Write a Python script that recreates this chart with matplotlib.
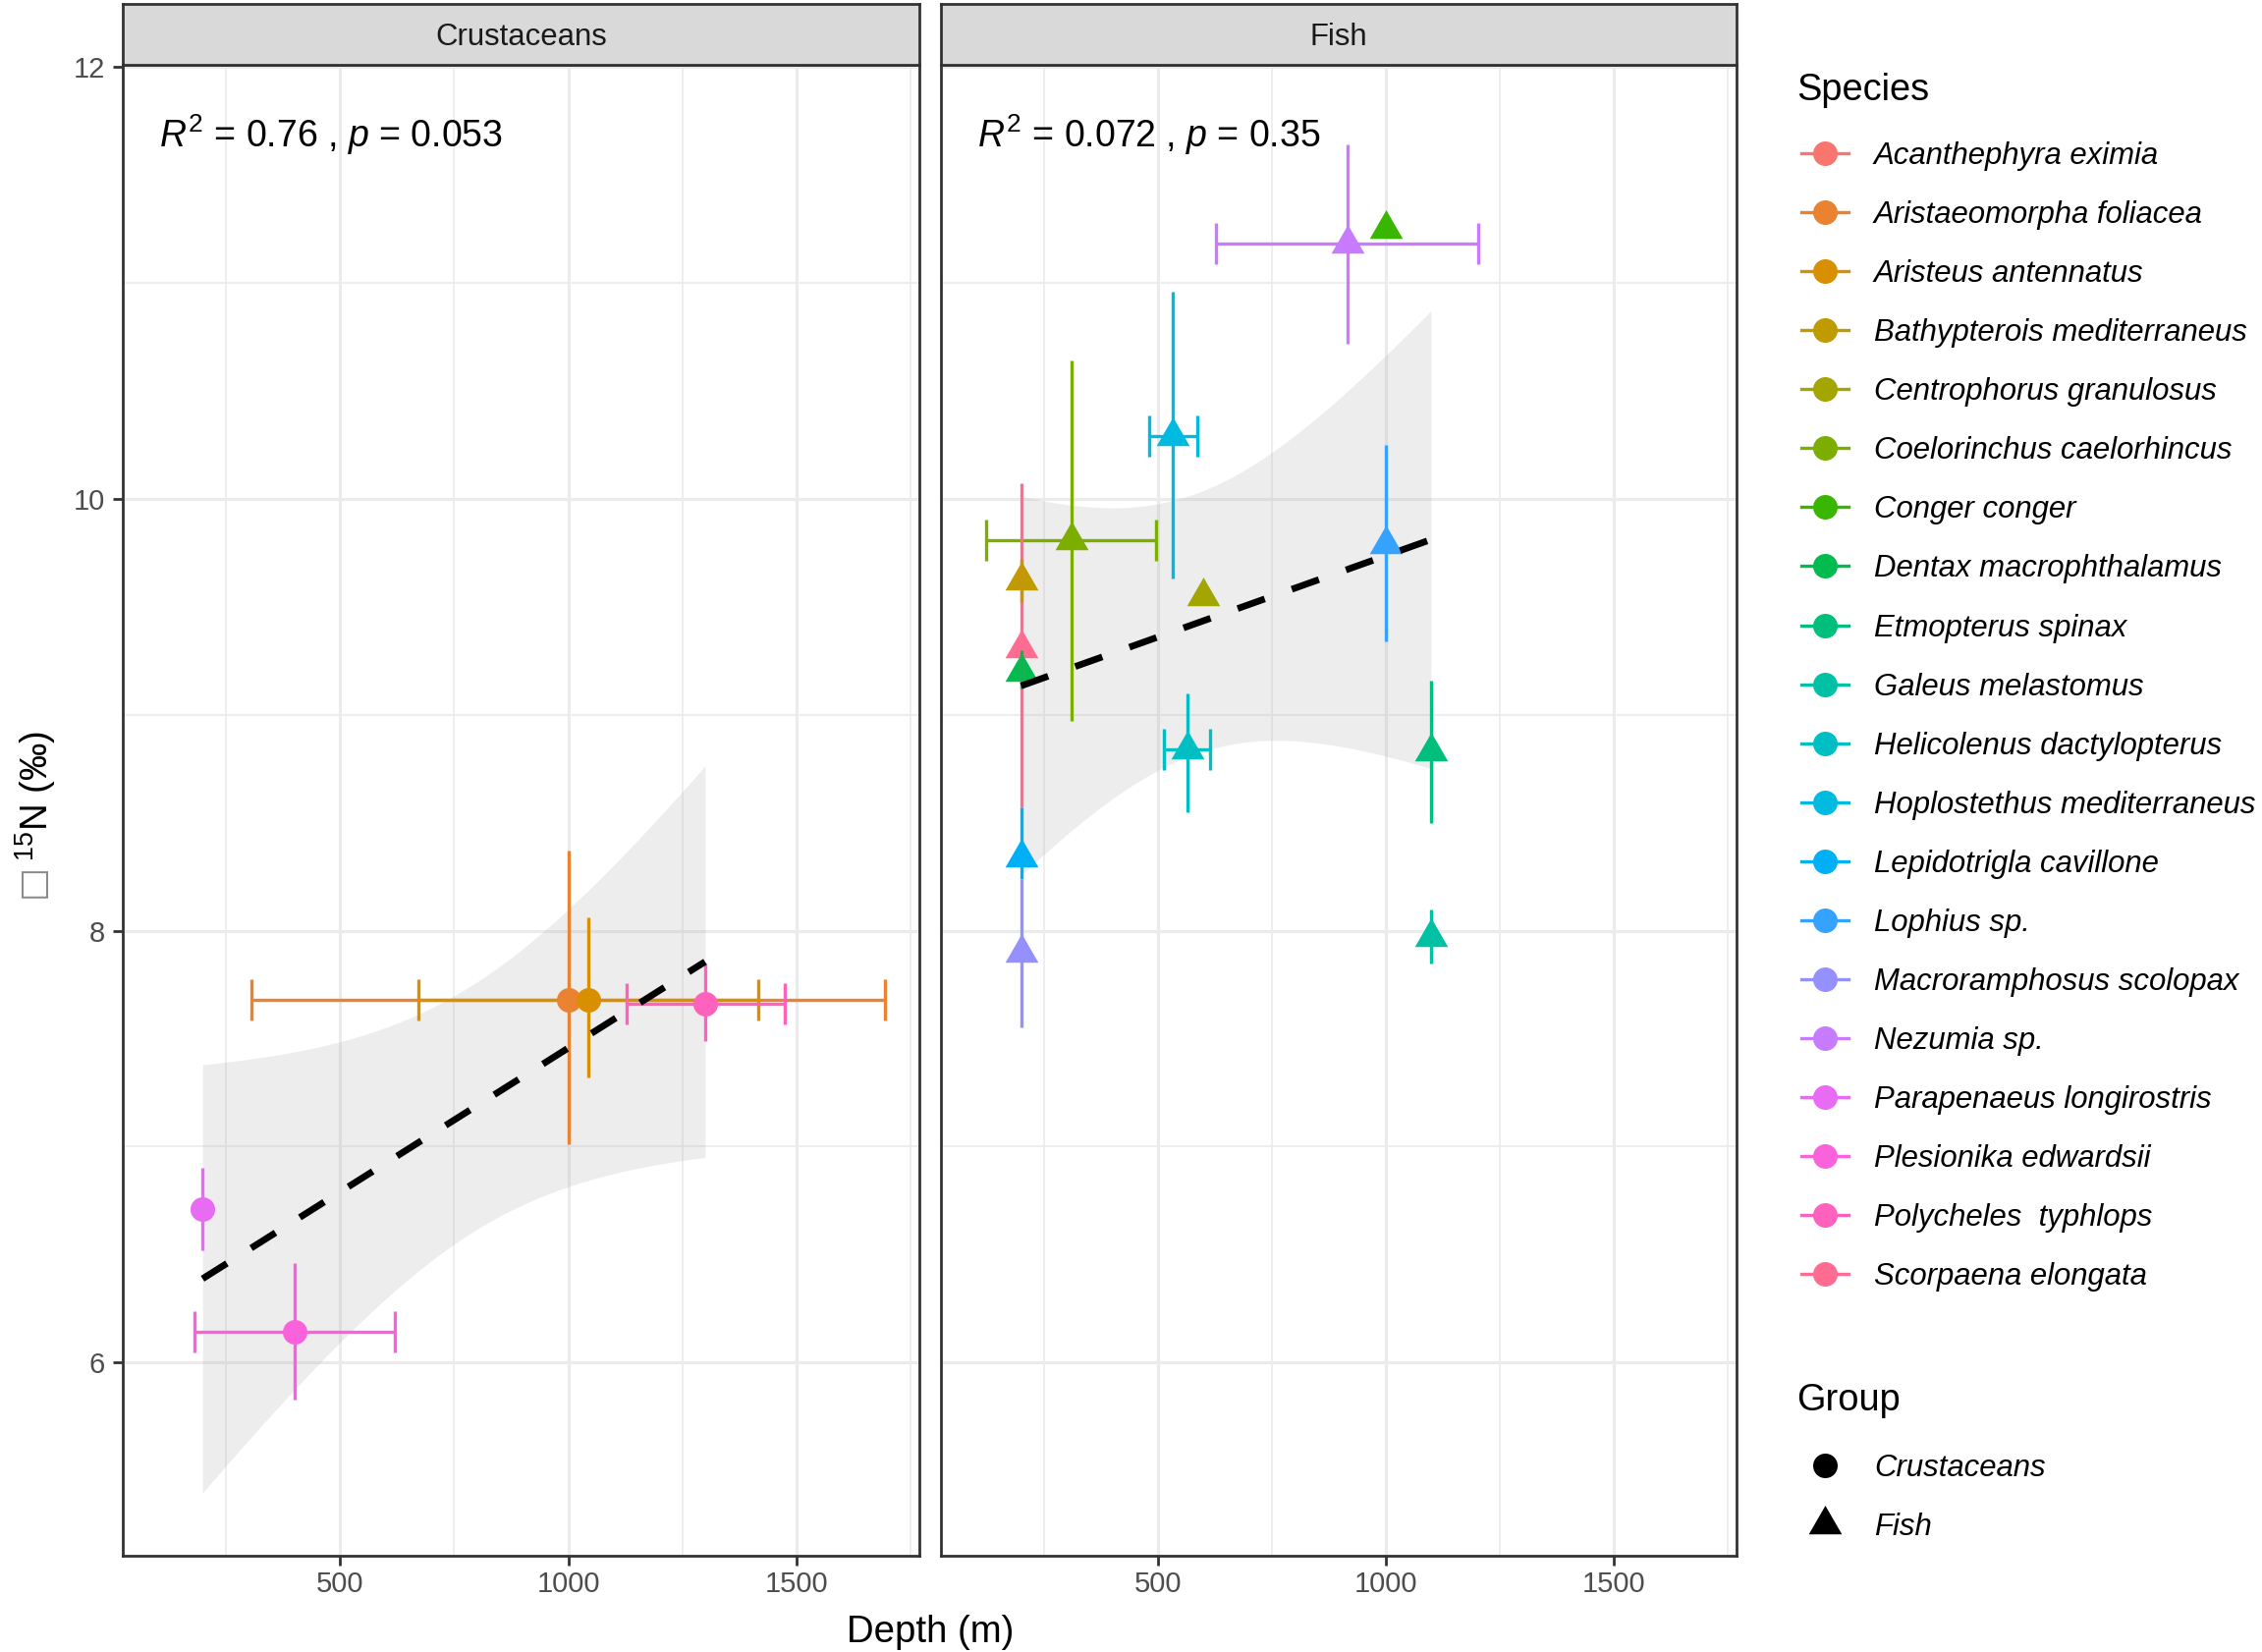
import numpy as np
import matplotlib
matplotlib.use("Agg")
import matplotlib.pyplot as plt
from matplotlib.lines import Line2D

plt.rcParams['font.family'] = ['Liberation Sans', 'DejaVu Sans']
plt.rcParams['mathtext.fontset'] = 'custom'
plt.rcParams['mathtext.rm'] = 'Liberation Sans'
plt.rcParams['mathtext.it'] = 'Liberation Sans:italic'
plt.rcParams['mathtext.bf'] = 'Liberation Sans:bold'

nan = np.nan

# ---------------- data ----------------
species = ["Acanthephyra eximia", "Aristaeomorpha foliacea", "Aristeus antennatus",
           "Bathypterois mediterraneus", "Centrophorus granulosus", "Coelorinchus caelorhincus",
           "Conger conger", "Dentax macrophthalamus", "Etmopterus spinax", "Galeus melastomus",
           "Helicolenus dactylopterus", "Hoplostethus mediterraneus", "Lepidotrigla cavillone",
           "Lophius sp.", "Macroramphosus scolopax", "Nezumia sp.", "Parapenaeus longirostris",
           "Plesionika edwardsii", "Polycheles  typhlops", "Scorpaena elongata"]
species_colors = ["#F8766D", "#EA8331", "#D89000", "#C09B00", "#A3A500", "#7CAE00", "#39B600",
                  "#00BB4E", "#00BF7D", "#00C1A3", "#00BFC4", "#00BAE0", "#00B0F6", "#35A2FF",
                  "#9590FF", "#C77CFF", "#E76BF3", "#FA62DB", "#FF62BC", "#FF6C91"]

groups = ["Crustaceans", "Fish"]
r2_labels = [r"$R^2$ = 0.76 , $p$ = 0.053", r"$R^2$ = 0.072 , $p$ = 0.35"]

# Crustaceans
crus_species = ["Aristaeomorpha foliacea", "Aristeus antennatus", "Parapenaeus longirostris",
                "Plesionika edwardsii", "Polycheles  typhlops"]
crus_depth = [1000, 1043, 198, 399, 1300]
crus_depth_min = [306, 671, nan, 180, 1127]
crus_depth_max = [1694, 1416, nan, 619, 1474]
crus_d15n = [7.68, 7.68, 6.71, 6.14, 7.66]
crus_d15n_min = [7.01, 7.32, 6.52, 5.83, 7.49]
crus_d15n_max = [8.37, 8.06, 6.90, 6.46, 7.85]

# Fish
fish_species = ["Scorpaena elongata", "Bathypterois mediterraneus", "Centrophorus granulosus",
                "Coelorinchus caelorhincus", "Conger conger", "Dentax macrophthalamus",
                "Etmopterus spinax", "Galeus melastomus", "Helicolenus dactylopterus",
                "Hoplostethus mediterraneus", "Lepidotrigla cavillone", "Lophius sp.",
                "Macroramphosus scolopax", "Nezumia sp."]
fish_depth = [199, 199, 599, 309, 999, 199, 1099, 1099, 564, 533, 199, 999, 199, 915]
fish_depth_min = [nan, nan, nan, 122, nan, nan, nan, nan, 513, 481, nan, nan, nan, 627]
fish_depth_max = [nan, nan, nan, 495, nan, nan, nan, nan, 614, 585, nan, nan, nan, 1203]
fish_d15n = [9.31, 9.62, 9.55, 9.81, 11.25, 9.20, 8.83, 7.97, 8.84, 10.29, 8.34, 9.79, 7.90, 11.18]
fish_d15n_min = [8.57, 9.52, nan, 8.97, nan, 9.12, 8.50, 7.85, 8.55, 9.63, 8.24, 9.34, 7.55, 10.72]
fish_d15n_max = [10.07, 9.72, nan, 10.64, nan, 9.30, 9.16, 8.10, 9.10, 10.96, 8.57, 10.25, 8.24, 11.64]

x_ticks = [500, 1000, 1500]
x_minor = [250, 750, 1250, 1750]
y_ticks = [6, 8, 10, 12]
y_minor = [7, 9, 11]

# two-sided 95% t quantiles
T975 = {3: 3.182446, 12: 2.178813}

# ---------------- style ----------------
W, H = 2303, 1682
DPI = 200
fig = plt.figure(figsize=(W / DPI, H / DPI), dpi=DPI)

def fx(px):
    return px / W

def fy(py):
    return 1 - py / H

TRI = [(0, 1.555), (1.347, -0.778), (-1.347, -0.778)]
MS_CIRCLE = 9.0
MS_TRI = 14.0
ELW = 1.2
CAP = 7.6

panel_top, panel_bot = 66, 1584
panels = [(125, 936), (958, 1768)]
strip_top = 4
col = dict(zip(species, species_colors))

datasets = [
    (crus_species, crus_depth, crus_depth_min, crus_depth_max, crus_d15n, crus_d15n_min, crus_d15n_max, 'o', MS_CIRCLE),
    (fish_species, fish_depth, fish_depth_min, fish_depth_max, fish_d15n, fish_d15n_min, fish_d15n_max, TRI, MS_TRI),
]

def lm_band(x, y, npts=80):
    x = np.asarray(x, float)
    y = np.asarray(y, float)
    n = len(x)
    slope, intercept = np.polyfit(x, y, 1)
    xs = np.linspace(x.min(), x.max(), npts)
    yhat = intercept + slope * xs
    resid = y - (intercept + slope * x)
    s = np.sqrt(np.sum(resid ** 2) / (n - 2))
    sxx = np.sum((x - x.mean()) ** 2)
    se = s * np.sqrt(1.0 / n + (xs - x.mean()) ** 2 / sxx)
    t = T975[n - 2]
    return xs, yhat, yhat - t * se, yhat + t * se

for k, (g, (px0, px1), ds) in enumerate(zip(groups, panels, datasets)):
    sp, dep, dmin, dmax, val, vmin, vmax, mk, ms = ds
    ax = fig.add_axes([fx(px0), fy(panel_bot), fx(px1 - px0), (panel_bot - panel_top) / H])
    ax.set_xlim(23, 1770)
    ax.set_ylim(5.105, 12.01)
    ax.set_xticks(x_ticks)
    ax.set_xticks(x_minor, minor=True)
    ax.set_yticks(y_ticks)
    ax.set_yticks(y_minor, minor=True)
    ax.grid(which='major', color='#EBEBEB', lw=1.1)
    ax.grid(which='minor', color='#EBEBEB', lw=0.6)
    ax.set_axisbelow(True)
    for s in ax.spines.values():
        s.set_color('#333333')
        s.set_linewidth(1.0)
    ax.tick_params(which='major', length=3.5, width=1.0, color='#333333',
                   labelcolor='#4D4D4D', labelsize=10.5)
    ax.tick_params(axis='y', pad=3.0)
    ax.tick_params(axis='x', pad=1.8)
    ax.tick_params(which='minor', length=0)
    if k == 1:
        ax.tick_params(axis='y', which='both', length=0, labelleft=False)

    # regression ribbon and line
    xs, yhat, lo, hi = lm_band(dep, val)
    ax.fill_between(xs, lo, hi, color='#999999', alpha=0.17, lw=0, zorder=2)

    # horizontal error bars
    for s_, x, x0, x1, y in zip(sp, dep, dmin, dmax, val):
        if not np.isnan(x0):
            ax.errorbar([x], [y], xerr=[[x - x0], [x1 - x]], fmt='none', ecolor=col[s_],
                        elinewidth=ELW, capsize=CAP, capthick=ELW, zorder=3)
    # points
    for s_, x, y in zip(sp, dep, val):
        ax.plot([x], [y], ls='none', marker=mk, ms=ms, color=col[s_], mew=0, zorder=4)
    # vertical error bars
    for s_, x, y, y0, y1 in zip(sp, dep, val, vmin, vmax):
        if not np.isnan(y0):
            ax.errorbar([x], [y], yerr=[[y - y0], [y1 - y]], fmt='none', ecolor=col[s_],
                        elinewidth=ELW, capsize=0, zorder=5)

    ax.plot(xs, yhat, color='black', lw=2.45, dashes=(4.3, 4.3), zorder=6)

    ax.text(0.0455, 0.9529, r2_labels[k], transform=ax.transAxes, ha='left', va='center',
            fontsize=13.5, color='black')

    # strip
    sax = fig.add_axes([fx(px0), fy(panel_top), fx(px1 - px0), (panel_top - strip_top) / H])
    sax.set_facecolor('#D9D9D9')
    sax.set_xticks([])
    sax.set_yticks([])
    for s in sax.spines.values():
        s.set_color('#333333')
        s.set_linewidth(1.0)
    sax.text(0.5, 0.323, g, transform=sax.transAxes, ha='center', va='baseline',
             fontsize=11.2, color='#1A1A1A')

# axis titles
fig.text(fx(947), fy(1672), "Depth (m)", ha='center', va='baseline', fontsize=13.8)
fig.text(fx(33), fy(880), "\u25A1", ha='center', va='top', rotation=90,
         fontsize=13, color='#8A8A8A', family='DejaVu Sans')
fig.text(fx(36), fy(877), "$^{15}$N (\u2030)", ha='center', va='bottom',
         rotation=90, fontsize=13.8)

# legends
fig.text(fx(1829), fy(91.5), "Species", ha='left', va='center', fontsize=13.7)
for i, (s_, c) in enumerate(zip(species, species_colors)):
    yy = 156 + i * 60.07
    fig.add_artist(Line2D([fx(1834), fx(1882)], [fy(yy), fy(yy)], color=c, lw=ELW,
                          transform=fig.transFigure))
    fig.add_artist(Line2D([fx(1858)], [fy(yy)], marker='o', ms=MS_CIRCLE, mew=0, color=c,
                          ls='none', transform=fig.transFigure))
    fig.text(fx(1908), fy(yy + 3), s_, ha='left', va='center', fontsize=11.2, style='italic')

fig.text(fx(1829), fy(1425.5), "Group", ha='left', va='center', fontsize=13.7)
for j, (gname, mk, ms) in enumerate(zip(groups, ['o', TRI], [MS_CIRCLE, MS_TRI])):
    yy = 1492 + j * 60.07
    fig.add_artist(Line2D([fx(1858)], [fy(yy)], marker=mk, ms=ms, mew=0, color='black',
                          ls='none', transform=fig.transFigure))
    fig.text(fx(1908), fy(yy + 3), gname, ha='left', va='center', fontsize=11.2, style='italic')

fig.savefig("out.png", dpi=DPI, facecolor='white')
